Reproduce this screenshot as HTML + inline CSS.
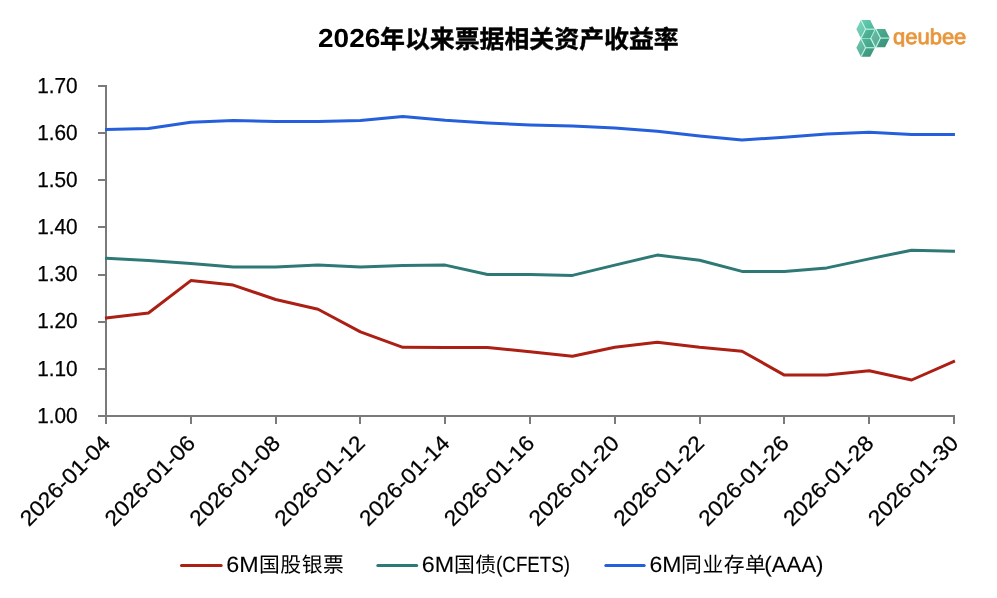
<!DOCTYPE html>
<html lang="zh-CN"><head><meta charset="utf-8"><title>2026年以来票据相关资产收益率</title>
<style>html,body{margin:0;padding:0;background:#fff;overflow:hidden}svg{display:block;will-change:transform}text{font-family:"Liberation Sans", "Noto Sans CJK SC", sans-serif;fill:#000;text-rendering:geometricPrecision}</style></head><body>
<svg width="997" height="598" viewBox="0 0 997 598">
<rect width="997" height="598" fill="#fff"/>
<text font-weight="bold"><tspan x="318.0" y="46.7" font-size="26" textLength="62.3" lengthAdjust="spacingAndGlyphs">2026</tspan><tspan x="380.0" y="47.6" font-size="24.9" stroke="#000" stroke-width="0.45">年以来票据相关资产收益率</tspan></text>
<g stroke="#7a7a7a" stroke-width="2" fill="none">
<line x1="106" y1="85" x2="106" y2="417"/>
<line x1="98" y1="416" x2="955" y2="416"/>
<line x1="98" y1="369" x2="106" y2="369"/>
<line x1="98" y1="322" x2="106" y2="322"/>
<line x1="98" y1="275" x2="106" y2="275"/>
<line x1="98" y1="227" x2="106" y2="227"/>
<line x1="98" y1="180" x2="106" y2="180"/>
<line x1="98" y1="133" x2="106" y2="133"/>
<line x1="98" y1="86" x2="106" y2="86"/>
<line x1="106" y1="416" x2="106" y2="424"/>
<line x1="191" y1="416" x2="191" y2="424"/>
<line x1="276" y1="416" x2="276" y2="424"/>
<line x1="360" y1="416" x2="360" y2="424"/>
<line x1="445" y1="416" x2="445" y2="424"/>
<line x1="530" y1="416" x2="530" y2="424"/>
<line x1="615" y1="416" x2="615" y2="424"/>
<line x1="700" y1="416" x2="700" y2="424"/>
<line x1="784" y1="416" x2="784" y2="424"/>
<line x1="869" y1="416" x2="869" y2="424"/>
<line x1="954" y1="416" x2="954" y2="424"/>
</g>
<text transform="translate(77.7,422.70) scale(0.955,1)" text-anchor="end" font-size="21.8" stroke="#000" stroke-width="0.25">1.00</text>
<text transform="translate(77.7,375.54) scale(0.955,1)" text-anchor="end" font-size="21.8" stroke="#000" stroke-width="0.25">1.10</text>
<text transform="translate(77.7,328.39) scale(0.955,1)" text-anchor="end" font-size="21.8" stroke="#000" stroke-width="0.25">1.20</text>
<text transform="translate(77.7,281.23) scale(0.955,1)" text-anchor="end" font-size="21.8" stroke="#000" stroke-width="0.25">1.30</text>
<text transform="translate(77.7,234.07) scale(0.955,1)" text-anchor="end" font-size="21.8" stroke="#000" stroke-width="0.25">1.40</text>
<text transform="translate(77.7,186.92) scale(0.955,1)" text-anchor="end" font-size="21.8" stroke="#000" stroke-width="0.25">1.50</text>
<text transform="translate(77.7,139.76) scale(0.955,1)" text-anchor="end" font-size="21.8" stroke="#000" stroke-width="0.25">1.60</text>
<text transform="translate(77.7,92.60) scale(0.955,1)" text-anchor="end" font-size="21.8" stroke="#000" stroke-width="0.25">1.70</text>
<text transform="translate(111.8,444.4) rotate(-45) scale(1.05,1)" text-anchor="end" font-size="21.8" stroke="#000" stroke-width="0.25">2026-01-04</text>
<text transform="translate(196.6,444.4) rotate(-45) scale(1.05,1)" text-anchor="end" font-size="21.8" stroke="#000" stroke-width="0.25">2026-01-06</text>
<text transform="translate(281.4,444.4) rotate(-45) scale(1.05,1)" text-anchor="end" font-size="21.8" stroke="#000" stroke-width="0.25">2026-01-08</text>
<text transform="translate(366.2,444.4) rotate(-45) scale(1.05,1)" text-anchor="end" font-size="21.8" stroke="#000" stroke-width="0.25">2026-01-12</text>
<text transform="translate(451.0,444.4) rotate(-45) scale(1.05,1)" text-anchor="end" font-size="21.8" stroke="#000" stroke-width="0.25">2026-01-14</text>
<text transform="translate(535.8,444.4) rotate(-45) scale(1.05,1)" text-anchor="end" font-size="21.8" stroke="#000" stroke-width="0.25">2026-01-16</text>
<text transform="translate(620.6,444.4) rotate(-45) scale(1.05,1)" text-anchor="end" font-size="21.8" stroke="#000" stroke-width="0.25">2026-01-20</text>
<text transform="translate(705.4,444.4) rotate(-45) scale(1.05,1)" text-anchor="end" font-size="21.8" stroke="#000" stroke-width="0.25">2026-01-22</text>
<text transform="translate(790.2,444.4) rotate(-45) scale(1.05,1)" text-anchor="end" font-size="21.8" stroke="#000" stroke-width="0.25">2026-01-26</text>
<text transform="translate(875.0,444.4) rotate(-45) scale(1.05,1)" text-anchor="end" font-size="21.8" stroke="#000" stroke-width="0.25">2026-01-28</text>
<text transform="translate(959.8,444.4) rotate(-45) scale(1.05,1)" text-anchor="end" font-size="21.8" stroke="#000" stroke-width="0.25">2026-01-30</text>
<polyline points="105.00,129.42 106.05,129.40 148.45,128.50 190.84,122.20 233.24,120.40 275.64,121.50 318.04,121.50 360.44,120.50 402.83,116.40 445.23,120.30 487.63,123.10 530.02,125.00 572.42,126.00 614.82,127.90 657.22,131.20 699.62,135.90 742.01,140.10 784.41,137.20 826.81,134.00 869.20,132.30 911.60,134.40 954.00,134.50 954.95,134.50" fill="none" stroke="#255fdc" stroke-width="3" stroke-linejoin="round" stroke-linecap="butt"/>
<polyline points="105.00,258.25 106.05,258.30 148.45,260.50 190.84,263.40 233.24,267.00 275.64,267.00 318.04,265.00 360.44,267.00 402.83,265.40 445.23,265.10 487.63,274.50 530.02,274.50 572.42,275.40 614.82,265.10 657.22,255.10 699.62,260.20 742.01,271.40 784.41,271.40 826.81,267.90 869.20,258.90 911.60,250.20 954.00,251.20 954.95,251.22" fill="none" stroke="#2e7876" stroke-width="3" stroke-linejoin="round" stroke-linecap="butt"/>
<polyline points="105.00,318.23 106.05,318.10 148.45,313.00 190.84,280.60 233.24,285.10 275.64,299.50 318.04,309.20 360.44,331.90 402.83,347.30 445.23,347.50 487.63,347.50 530.02,351.80 572.42,356.30 614.82,347.30 657.22,342.20 699.62,347.30 742.01,351.20 784.41,375.10 826.81,375.10 869.20,370.70 911.60,380.00 954.00,361.30 954.95,360.88" fill="none" stroke="#ac1f15" stroke-width="3" stroke-linejoin="round" stroke-linecap="butt"/>
<line x1="181.5" y1="565.5" x2="221.2" y2="565.5" stroke="#ac1f15" stroke-width="3" stroke-linecap="round"/>
<text><tspan x="226.2" y="571.7" font-size="22.2" lengthAdjust="spacingAndGlyphs" stroke="#000" stroke-width="0.1" textLength="32.4">6M</tspan><tspan x="259.0" y="572.4" font-size="20.8" letter-spacing="0.53">国股银票</tspan></text>
<line x1="377.8" y1="565.5" x2="416.7" y2="565.5" stroke="#2e7876" stroke-width="3" stroke-linecap="round"/>
<text><tspan x="421.7" y="571.7" font-size="22.2" lengthAdjust="spacingAndGlyphs" stroke="#000" stroke-width="0.1" textLength="32.4">6M</tspan><tspan x="454.0" y="572.4" font-size="20.8" letter-spacing="0.53">国债</tspan><tspan x="496.1" y="571.7" font-size="22.2" lengthAdjust="spacingAndGlyphs" stroke="#000" stroke-width="0.1" textLength="74.0">(CFETS)</tspan></text>
<line x1="605.8" y1="565.5" x2="644.2" y2="565.5" stroke="#255fdc" stroke-width="3" stroke-linecap="round"/>
<text><tspan x="649.4" y="571.7" font-size="22.2" lengthAdjust="spacingAndGlyphs" stroke="#000" stroke-width="0.1" textLength="32.0">6M</tspan><tspan x="681.1" y="572.4" font-size="20.8" letter-spacing="0.53">同业存单</tspan><tspan x="764.3" y="571.7" font-size="22.2" lengthAdjust="spacingAndGlyphs" stroke="#000" stroke-width="0.1" textLength="59.2">(AAA)</tspan></text>
<defs><linearGradient id="lg" gradientUnits="userSpaceOnUse" x1="857" y1="22" x2="888" y2="54"><stop offset="0" stop-color="#66d2b4"/><stop offset="0.55" stop-color="#48a88c"/><stop offset="1" stop-color="#3a9278"/></linearGradient><clipPath id="qc"><rect x="888" y="28.0" width="84" height="18.7"/></clipPath></defs>
<g id="logo">
<line x1="875.35" y1="29.10" x2="870.75" y2="38.20" stroke="#c2f8ea" stroke-width="2.4" stroke-linecap="butt"/>
<line x1="870.75" y1="38.38" x2="875.35" y2="47.48" stroke="#c2f8ea" stroke-width="2.4" stroke-linecap="butt"/>
<line x1="861.00" y1="38.47" x2="870.20" y2="38.47" stroke="#c2f8ea" stroke-width="2.4" stroke-linecap="butt"/>
<polygon points="856.40,29.20 861.00,20.10 870.20,20.10 874.80,29.20 870.20,38.30 861.00,38.30" fill="url(#lg)"/>
<polygon points="856.40,29.20 861.00,20.10 865.60,29.20 861.00,38.30" fill="#fff" fill-opacity="0.13"/>
<polygon points="865.60,29.20 874.80,29.20 870.20,38.30 861.00,38.30" fill="#000" fill-opacity="0.04"/>
<line x1="865.60" y1="29.20" x2="861.00" y2="20.10" stroke="#c2f8ea" stroke-width="1.1" stroke-linecap="butt"/>
<line x1="865.60" y1="29.20" x2="874.80" y2="29.20" stroke="#c2f8ea" stroke-width="1.1" stroke-linecap="butt"/>
<line x1="865.60" y1="29.20" x2="861.00" y2="38.30" stroke="#c2f8ea" stroke-width="1.1" stroke-linecap="butt"/>
<polygon points="871.30,38.10 875.90,29.00 885.10,29.00 889.70,38.10 885.10,47.20 875.90,47.20" fill="url(#lg)"/>
<polygon points="871.30,38.10 875.90,29.00 880.50,38.10 875.90,47.20" fill="#fff" fill-opacity="0.13"/>
<polygon points="880.50,38.10 889.70,38.10 885.10,47.20 875.90,47.20" fill="#000" fill-opacity="0.04"/>
<line x1="880.50" y1="38.10" x2="875.90" y2="29.00" stroke="#c2f8ea" stroke-width="1.1" stroke-linecap="butt"/>
<line x1="880.50" y1="38.10" x2="889.70" y2="38.10" stroke="#c2f8ea" stroke-width="1.1" stroke-linecap="butt"/>
<line x1="880.50" y1="38.10" x2="875.90" y2="47.20" stroke="#c2f8ea" stroke-width="1.1" stroke-linecap="butt"/>
<polygon points="856.40,47.75 861.00,38.65 870.20,38.65 874.80,47.75 870.20,56.85 861.00,56.85" fill="url(#lg)"/>
<polygon points="856.40,47.75 861.00,38.65 865.60,47.75 861.00,56.85" fill="#fff" fill-opacity="0.13"/>
<polygon points="865.60,47.75 874.80,47.75 870.20,56.85 861.00,56.85" fill="#000" fill-opacity="0.04"/>
<line x1="865.60" y1="47.75" x2="861.00" y2="38.65" stroke="#c2f8ea" stroke-width="1.1" stroke-linecap="butt"/>
<line x1="865.60" y1="47.75" x2="874.80" y2="47.75" stroke="#c2f8ea" stroke-width="1.1" stroke-linecap="butt"/>
<line x1="865.60" y1="47.75" x2="861.00" y2="56.85" stroke="#c2f8ea" stroke-width="1.1" stroke-linecap="butt"/>
<g clip-path="url(#qc)"><text transform="translate(893.0,43.7) scale(1.022,1)" font-size="21.5" fill="#e8963c" stroke="#e8963c" stroke-width="0.85" stroke-linejoin="round" style="fill:#e8963c">qeubee</text></g>
</g>
</svg></body></html>
